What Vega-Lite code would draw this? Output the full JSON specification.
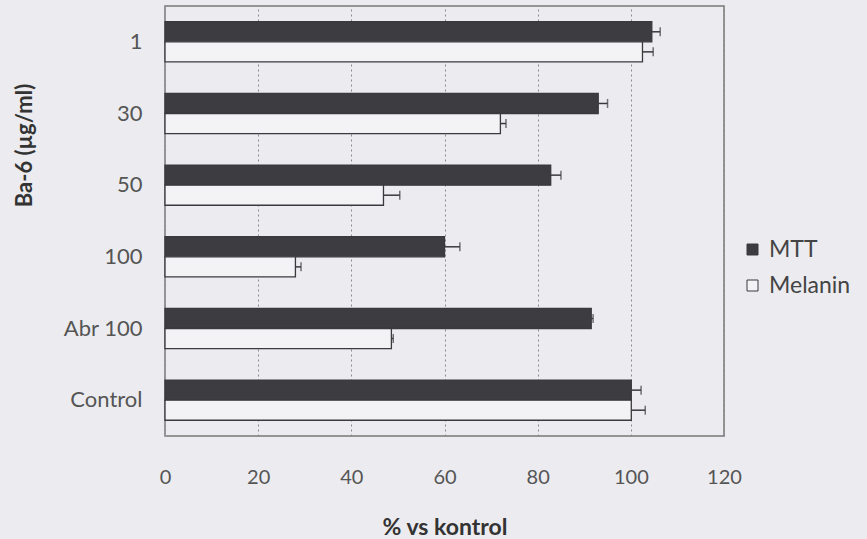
{
  "$schema": "https://vega.github.io/schema/vega-lite/v6.json",
  "width": 559,
  "height": 430,
  "autosize": {"type": "none"},
  "padding": {"left": 165, "top": 6, "right": 143, "bottom": 103},
  "background": "#ececf0",
  "config": {
    "font": "Lato",
    "view": {"stroke": "#777777", "strokeWidth": 1.5, "fill": "#ececf0"}
  },
  "data": {
    "values": [
      {"cat": "1", "series": "MTT", "value": 104.5, "err": 1.8},
      {"cat": "1", "series": "Melanin", "value": 102.5, "err": 2.3},
      {"cat": "30", "series": "MTT", "value": 93.0, "err": 2.0},
      {"cat": "30", "series": "Melanin", "value": 72.0, "err": 1.2},
      {"cat": "50", "series": "MTT", "value": 82.8, "err": 2.2},
      {"cat": "50", "series": "Melanin", "value": 46.9, "err": 3.5},
      {"cat": "100", "series": "MTT", "value": 60.0, "err": 3.3},
      {"cat": "100", "series": "Melanin", "value": 28.0, "err": 1.2},
      {"cat": "Abr 100", "series": "MTT", "value": 91.5, "err": 0.4},
      {"cat": "Abr 100", "series": "Melanin", "value": 48.6, "err": 0.4},
      {"cat": "Control", "series": "MTT", "value": 100.1, "err": 2.1},
      {"cat": "Control", "series": "Melanin", "value": 100.1, "err": 3.0}
    ]
  },
  "transform": [{"calculate": "datum.value + datum.err", "as": "hi"}],
  "encoding": {
    "y": {
      "field": "cat",
      "type": "nominal",
      "sort": ["1", "30", "50", "100", "Abr 100", "Control"],
      "scale": {"paddingInner": 0.44, "paddingOuter": 0.22},
      "axis": {
        "title": "Ba-6 (µg/ml)",
        "titleFontSize": 22,
        "titleFontWeight": "bold",
        "titleColor": "#333333",
        "titleX": -141,
        "titleY": 139,
        "titleAngle": -90,
        "titleAlign": "center",
        "titleBaseline": "middle",
        "labelFontSize": 22,
        "labelColor": "#555555",
        "labelPadding": 23,
        "ticks": false,
        "domainColor": "#999999",
        "domainDash": [2, 2]
      }
    },
    "yOffset": {
      "field": "series",
      "type": "nominal",
      "sort": ["MTT", "Melanin"],
      "scale": {"paddingInner": 0, "paddingOuter": 0}
    }
  },
  "layer": [
    {
      "mark": {"type": "bar", "stroke": "#3a3a3e", "strokeWidth": 1.3, "cornerRadius": 0},
      "encoding": {
        "x": {
          "field": "value",
          "type": "quantitative",
          "scale": {"domain": [0, 120], "nice": false},
          "axis": {
            "values": [0, 20, 40, 60, 80, 100, 120],
            "title": "% vs kontrol",
            "titleFontSize": 23,
            "titleFontWeight": "bold",
            "titleColor": "#333333",
            "titleY": 91,
            "titleBaseline": "middle",
            "labelFontSize": 20,
            "labelColor": "#555555",
            "labelPadding": 31,
            "labelFlush": false,
            "labelOverlap": false,
            "ticks": false,
            "domain": false,
            "grid": true,
            "gridColor": "#8a8a8a",
            "gridDash": [2, 3],
            "gridWidth": 1
          }
        },
        "color": {
          "field": "series",
          "type": "nominal",
          "sort": ["MTT", "Melanin"],
          "scale": {"domain": ["MTT", "Melanin"], "range": ["#3c3c41", "#f3f3f5"]},
          "legend": {
            "title": null,
            "orient": "none",
            "legendX": 576,
            "legendY": 232,
            "symbolType": "square",
            "symbolSize": 121,
            "symbolStrokeColor": "#3a3a3e",
            "symbolStrokeWidth": 1,
            "labelFontSize": 23,
            "labelColor": "#444444",
            "labelOffset": 5,
            "rowPadding": 12
          }
        }
      }
    },
    {
      "mark": {"type": "rule", "color": "#3a3a3e", "strokeWidth": 1.5},
      "encoding": {
        "x": {"field": "value", "type": "quantitative"},
        "x2": {"field": "hi"}
      }
    },
    {
      "mark": {"type": "tick", "orient": "vertical", "color": "#3a3a3e", "size": 9, "thickness": 1.5},
      "encoding": {
        "x": {"field": "hi", "type": "quantitative"}
      }
    }
  ]
}
